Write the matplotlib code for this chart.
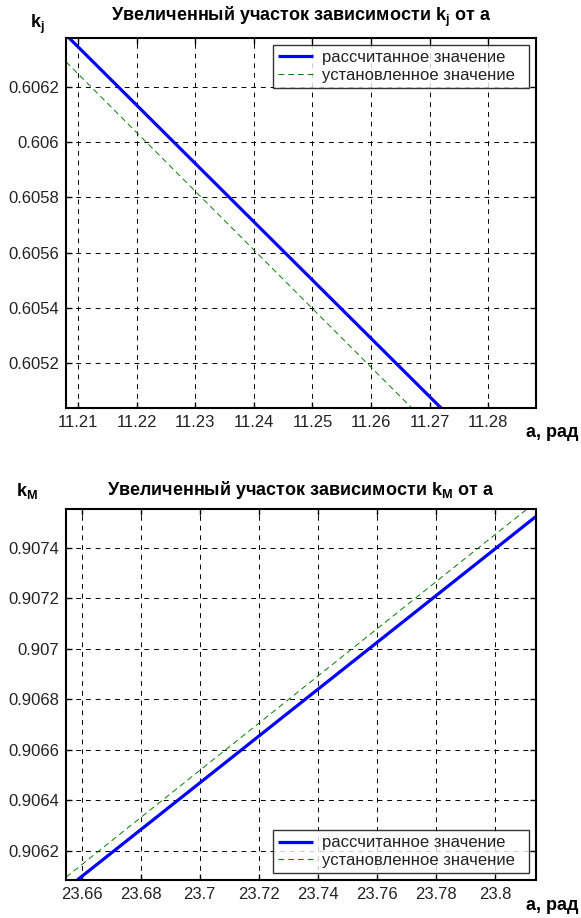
import matplotlib
matplotlib.use('Agg')
import matplotlib.pyplot as plt

plt.rcParams['font.family'] = ['Liberation Sans', 'DejaVu Sans']
plt.rcParams['mathtext.fontset'] = 'custom'
plt.rcParams['mathtext.rm'] = 'Liberation Sans'

# top panel: k_j vs a
a_j_calc = [11.2083, 11.2720]
k_j_calc = [0.60638, 0.605037]
a_j_set = [11.20795, 11.2670]
k_j_set = [0.60629, 0.605037]
xt_j = [11.21, 11.22, 11.23, 11.24, 11.25, 11.26, 11.27, 11.28]
yt_j = [0.6052, 0.6054, 0.6056, 0.6058, 0.606, 0.6062]
xlim_j = (11.20795, 11.2881)
ylim_j = (0.605037, 0.606376)

# bottom panel: k_M vs a
a_m_calc = [23.6585, 23.8138]
k_m_calc = [0.906085, 0.907523]
a_m_set = [23.65468, 23.81074]
k_m_set = [0.906096, 0.907552]
xt_m = [23.66, 23.68, 23.70, 23.72, 23.74, 23.76, 23.78, 23.80]
yt_m = [0.9062, 0.9064, 0.9066, 0.9068, 0.907, 0.9072, 0.9074]
xlim_m = (23.65468, 23.8138)
ylim_m = (0.906085, 0.907552)

lbl_calc = 'рассчитанное значение   '
lbl_set = 'установленное значение  '


def fmt(v):
    return ('%.4f' % v).rstrip('0').rstrip('.')


def panel(ax, xa, ya, xb, yb, xt, yt, xl, yl, title, loc, pad):
    ax.plot(xa, ya, color='#0000ff', lw=2.3, label=lbl_calc, solid_capstyle='butt')
    ax.plot(xb, yb, color='#008000', lw=0.7, ls=(0, (6, 4)), label=lbl_set)
    ax.set_xlim(*xl); ax.set_ylim(*yl)
    ax.set_xticks(xt); ax.set_xticklabels([fmt(v) for v in xt])
    ax.set_yticks(yt); ax.set_yticklabels([fmt(v) for v in yt])
    ax.grid(True, color='black', lw=0.7, ls=(0, (5, 5)))
    ax.tick_params(direction='in', length=4, width=1, top=True, right=True,
                   labelsize=12, labelcolor='#222222', pad=5)
    for s in ax.spines.values():
        s.set_linewidth(1.5)
    ax.set_title(title, fontsize=13, fontweight='bold', pad=pad)
    leg = ax.legend(loc=loc, fontsize=12, frameon=True, fancybox=False,
                    handlelength=2.1, borderaxespad=0.42, borderpad=0.3,
                    labelspacing=0.15, handletextpad=0.5)
    leg.get_frame().set_edgecolor('black')
    leg.get_frame().set_linewidth(1.0)
    for t in leg.get_texts():
        t.set_color('#222222')


fig = plt.figure(figsize=(5.81, 9.18), dpi=100)
ax1 = fig.add_axes([0.1136, 0.5552, 0.8085, 0.4034])
ax2 = fig.add_axes([0.1136, 0.0414, 0.8085, 0.4038])

panel(ax1, a_j_calc, k_j_calc, a_j_set, k_j_set, xt_j, yt_j, xlim_j, ylim_j,
      'Увеличенный участок зависимости $\\mathregular{k_j}$ от a', 'upper right', 12)
panel(ax2, a_m_calc, k_m_calc, a_m_set, k_m_set, xt_m, yt_m, xlim_m, ylim_m,
      'Увеличенный участок зависимости $\\mathregular{k_M}$ от a', 'lower right', 10)

fig.text(37 / 581, 1 - 28 / 918, '$\\mathregular{k_j}$', ha='center', va='baseline',
         fontsize=13, fontweight='bold')
fig.text(27 / 581, 1 - 496 / 918, '$\\mathregular{k_M}$', ha='center', va='baseline',
         fontsize=13, fontweight='bold')
fig.text(579 / 581, 1 - 437 / 918, 'a, рад', ha='right', va='baseline',
         fontsize=13, fontweight='bold')
fig.text(579 / 581, 1 - 910 / 918, 'a, рад', ha='right', va='baseline',
         fontsize=13, fontweight='bold')

fig.savefig('out.png', dpi=100)
